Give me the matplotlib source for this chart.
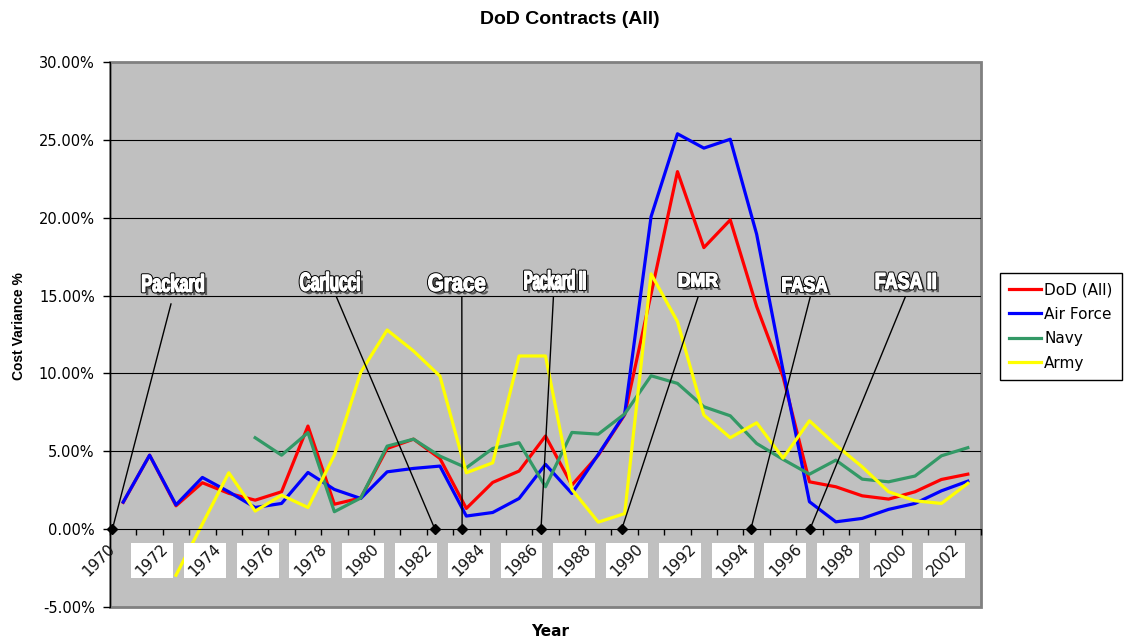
import numpy as np
import matplotlib
matplotlib.use("Agg")
import matplotlib.pyplot as plt
import matplotlib.patheffects as pe
from matplotlib.patches import Rectangle, PathPatch
from matplotlib.ticker import FuncFormatter
from matplotlib.textpath import TextPath
from matplotlib.font_manager import FontProperties
from matplotlib.transforms import Affine2D, ScaledTranslation

nan = np.nan

years = list(range(1970, 2003))

# cost variance %
dod_all = [1.72, 4.75, 1.50, 2.98, 2.30, 1.86, 2.40, 6.62, 1.60, 2.00,
           5.18, 5.78, 4.54, 1.33, 3.00, 3.73, 5.98, 2.83, 4.75, 7.35,
           15.10, 22.96, 18.08, 19.86, 14.30, 9.79, 3.04, 2.72, 2.14, 1.93,
           2.40, 3.19, 3.53]
air_force = [1.74, 4.75, 1.56, 3.32, 2.40, 1.39, 1.65, 3.64, 2.55, 1.97,
             3.68, 3.90, 4.05, 0.84, 1.07, 1.97, 4.16, 2.29, 4.80, 7.40,
             20.07, 25.39, 24.47, 25.04, 18.94, 10.20, 1.76, 0.47, 0.69, 1.27,
             1.65, 2.46, 3.08]
navy = [nan, nan, nan, nan, nan, 5.87, 4.75, 6.20, 1.12, 2.00,
        5.33, 5.78, 4.69, 3.94, 5.18, 5.55, 2.72, 6.21, 6.10, 7.40,
        9.85, 9.36, 7.86, 7.28, 5.50, 4.48, 3.53, 4.43, 3.21, 3.04,
        3.41, 4.71, 5.23]
army = [nan, nan, -2.96, 0.33, 3.62, 1.16, 2.18, 1.39, 4.75, 10.07,
        12.79, 11.44, 9.83, 3.62, 4.26, 11.12, 11.12, 2.55, 0.45, 1.00,
        16.39, 13.33, 7.33, 5.87, 6.83, 4.56, 6.96, 5.40, 4.00, 2.40,
        1.82, 1.65, 2.94]

series_names = ["DoD (All)", "Air Force", "Navy", "Army"]
series_colors = ["#FF0000", "#0000FF", "#339966", "#FFFF00"]

# reform initiatives drawn as callouts
reform_names = ["Packard", "Carlucci", "Grace", "Packard II", "DMR", "FASA", "FASA II"]
reform_text_x = [1971.89, 1977.83, 1982.64, 1986.36, 1991.79, 1995.83, 1999.65]
reform_text_y = [15.81, 15.91, 15.84, 16.00, 16.00, 15.71, 15.94]
reform_line_x = [1971.81, 1978.08, 1982.83, 1986.30, 1991.78, 1996.03, 1999.63]
reform_line_y = [14.46, 14.91, 14.91, 14.91, 14.91, 14.91, 14.91]
reform_year = [1969.59, 1981.81, 1982.84, 1985.83, 1988.89, 1993.78, 1996.02]
reform_size = [17.5, 18.5, 17.5, 19, 13.5, 14.5, 16.3]
reform_squeeze = [0.67, 0.60, 0.84, 0.50, 0.94, 0.86, 0.79]

W, H = 1133, 639
fig = plt.figure(figsize=(W / 100, H / 100), dpi=100)
ax = fig.add_axes([110 / W, 1 - 607 / H, 871 / W, 545 / H])
ax.set_facecolor("#C0C0C0")
ax.set_xlim(1969.5, 2002.5)
ax.set_ylim(-5, 30)

# plot area frame + axes
ax.add_patch(Rectangle((0, 0), 1, 1, transform=ax.transAxes, fill=False,
                       edgecolor="#808080", lw=2, clip_on=False, zorder=0.5))
ax.spines["top"].set_visible(False)
ax.spines["right"].set_visible(False)
ax.spines["left"].set_color("black")
ax.spines["bottom"].set_position(("data", 0))
ax.spines["bottom"].set_color("black")
ax.spines["bottom"].set_zorder(3)

yt = np.arange(-5, 31, 5)
ax.set_yticks(yt)
ax.yaxis.set_major_formatter(FuncFormatter(lambda v, p: "%.2f%%" % v))
ax.tick_params(axis="y", direction="out", length=5, width=1, pad=6, labelsize=10.5)
for v in yt:
    if -5 < v < 30 and v != 0:
        ax.axhline(v, color="black", lw=0.8, zorder=1)

ax.set_xticks(np.arange(1969.5, 2003, 1))
ax.tick_params(axis="x", direction="out", length=4, width=1, labelbottom=False)

for vals, name, col in zip([dod_all, air_force, navy, army], series_names, series_colors):
    ax.plot(years, vals, color=col, lw=2.3, label=name, zorder=2)

# year labels in white boxes
px_year = 871.0 / 33
px_pct = 545.0 / 35
for yr in years[::2]:
    cx = yr - 24 / px_year
    cy = -2.0
    if yr != 1970:
        ax.add_patch(Rectangle((cx - 21 / px_year, cy - 17.5 / px_pct), 42 / px_year, 35 / px_pct,
                               facecolor="white", edgecolor="none", zorder=2.5, clip_on=False))
    ax.text(cx, cy, str(yr), rotation=45, ha="center", va="center", fontsize=11,
            color="#111111", zorder=2.6, clip_on=False)

# callouts: outlined white lettering with a drop shadow, squeezed sideways
bold = FontProperties(family="Liberation Sans", weight="bold")
for i, name in enumerate(reform_names):
    ax.plot([reform_line_x[i], reform_year[i]], [reform_line_y[i], 0], color="black",
            lw=1, zorder=4, clip_on=False)
    ax.plot([reform_year[i]], [0], marker="D", color="black", ms=5, zorder=4, clip_on=False)
    tp = TextPath((0, 0), name, size=reform_size[i], prop=bold)
    ext = tp.get_extents()
    tr = (Affine2D().translate(-(ext.x0 + ext.x1) / 2, -(ext.y0 + ext.y1) / 2)
          .scale(reform_squeeze[i] / 72.0, 1 / 72.0)
          + fig.dpi_scale_trans
          + ScaledTranslation(reform_text_x[i], reform_text_y[i], ax.transData))
    patch = PathPatch(tp, transform=tr, facecolor="white", edgecolor="white", lw=1.0,
                      joinstyle="round", zorder=5)
    patch.set_path_effects([pe.SimplePatchShadow(offset=(2.5, -2.5), shadow_rgbFace="#4a4a4a", alpha=0.85),
                            pe.Stroke(linewidth=2.4, foreground="black"),
                            pe.Normal()])
    ax.add_artist(patch)

leg = ax.legend(loc="upper left", bbox_to_anchor=(1000 / W, 1 - 273 / H),
                bbox_transform=fig.transFigure, fontsize=11, frameon=True, fancybox=False,
                edgecolor="black", framealpha=1, borderaxespad=0, borderpad=0.6,
                handlelength=2.1, handletextpad=0.2, labelspacing=0.62)
leg.get_frame().set_linewidth(1)

fig.text(570 / W, 1 - 20 / H, "DoD Contracts (All)", ha="center", va="center",
         fontsize=14, fontweight="bold", family="Liberation Sans")
fig.text(19 / W, 1 - 326 / H, "Cost Variance %", rotation=90, ha="center", va="center",
         fontsize=10, fontweight="bold", family="Liberation Sans")
fig.text(550 / W, 1 - 632 / H, "Year", ha="center", va="center",
         fontsize=11, fontweight="bold")

fig.savefig("out.png", dpi=100)
